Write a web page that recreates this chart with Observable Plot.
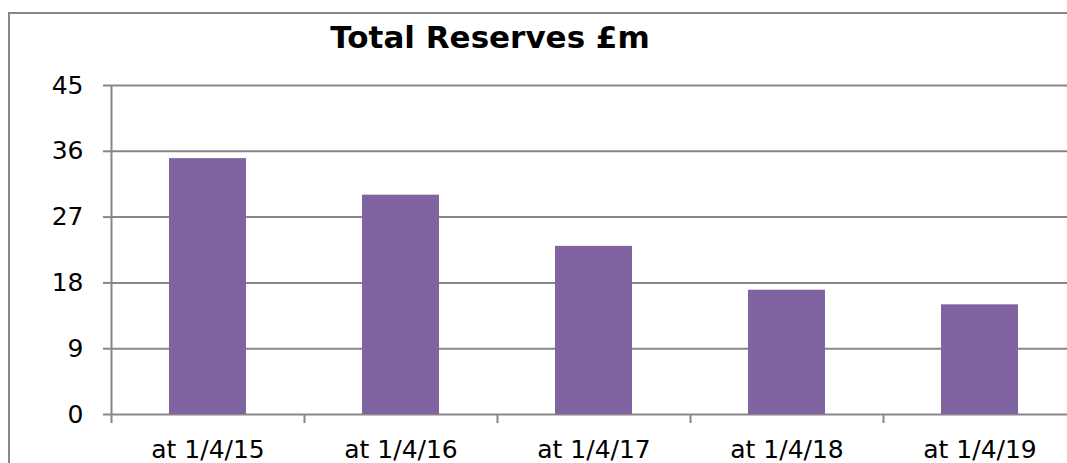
<!DOCTYPE html>
<html>
<head>
<meta charset="utf-8">
<script src="https://cdn.jsdelivr.net/npm/d3@7"></script>
<script src="https://cdn.jsdelivr.net/npm/@observablehq/plot@0.6"></script>
<style>
  html, body { margin: 0; padding: 0; background: #fff; }
  #wrap { position: relative; width: 1067px; height: 463px; overflow: hidden; }
  #border { position: absolute; left: 8px; top: 12px; right: -10px; bottom: -10px; border-left: 2px solid #878787; border-top: 2px solid #878787; }
  #title { position: absolute; left: 0; width: 980px; top: 19px; text-align: center; font: bold 31px "DejaVu Sans", Verdana, sans-serif; color: #000; }
  svg { position: absolute; left: 0; top: 0; }
</style>
</head>
<body>
<div id="wrap">
  <div id="border"></div>
  <div id="title">Total Reserves £m</div>
</div>
<script>
const categories = ["at 1/4/15", "at 1/4/16", "at 1/4/17", "at 1/4/18", "at 1/4/19"];
const values = [35, 30, 23, 17, 15];
const yTicks = [0, 9, 18, 27, 36, 45];

const data = categories.map((c, i) => ({category: c, value: values[i]}));
const xRange = [111, 1076];
const step = (xRange[1] - xRange[0]) / categories.length;
const font = '"DejaVu Sans", Verdana, sans-serif';

const chart = Plot.plot({
  width: 1067,
  height: 463,
  marginLeft: 111,
  marginRight: 0,
  marginTop: 85,
  marginBottom: 49,
  style: {fontFamily: font, fontSize: "25px", color: "#000", background: "transparent"},
  x: {domain: categories, range: xRange, paddingInner: 0.6, paddingOuter: 0.3, align: 0.5},
  y: {domain: [0, 45], range: [414, 85]},
  marks: [
    Plot.gridY(yTicks, {stroke: "#878787", strokeOpacity: 1, strokeWidth: 2}),
    Plot.barY(data, {x: "category", y: "value", fill: "#8064A2"}),
    Plot.ruleX([categories[0]], {dx: -step / 2, y1: 45, y2: 0, stroke: "#878787", strokeWidth: 2, insetBottom: -9}),
    Plot.ruleX(categories.slice(1), {dx: -step / 2, y1: 0, y2: 0, stroke: "#878787", strokeWidth: 2, insetBottom: -9}),
    Plot.axisY(yTicks, {tickSize: 8, tickPadding: 20, stroke: "#878787", strokeWidth: 2, strokeOpacity: 1, fontSize: 25, fill: "#000", label: null}),
    Plot.axisX({tickSize: 0, tickPadding: 26, fontSize: 25, fill: "#000", label: null})
  ]
});
document.getElementById("wrap").insertBefore(chart, document.getElementById("title"));
</script>
</body>
</html>
